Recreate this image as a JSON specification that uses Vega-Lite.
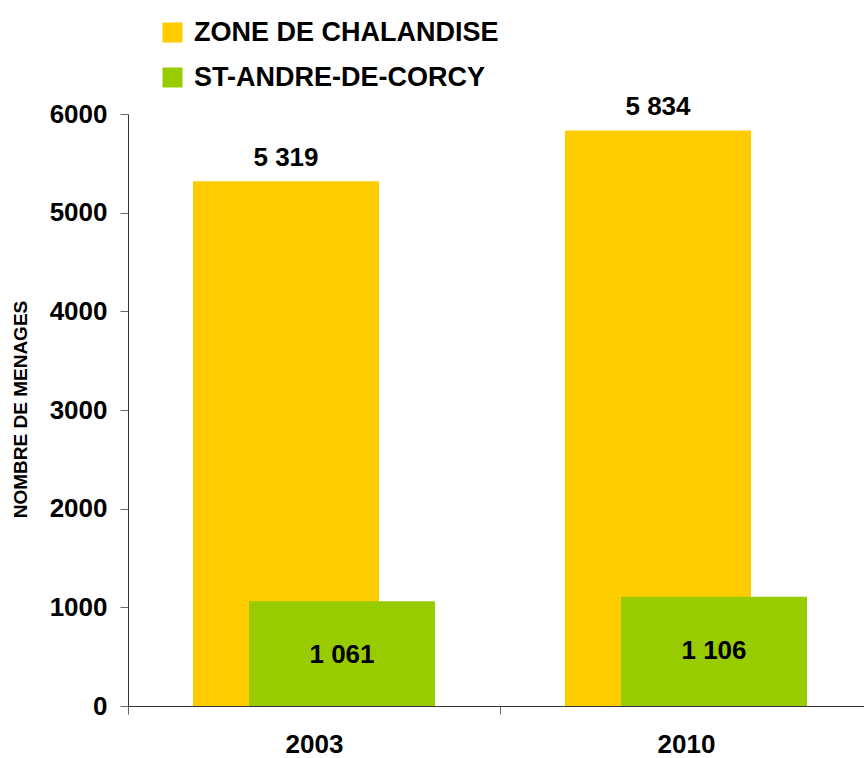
{
  "$schema": "https://vega.github.io/schema/vega-lite/v6.json",
  "width": 736,
  "height": 592,
  "autosize": {"type": "none"},
  "padding": {"left": 128, "top": 114, "right": 0, "bottom": 52},
  "background": "white",
  "config": {
    "font": "Liberation Sans",
    "view": {"stroke": null},
    "locale": {"number": {"decimal": ",", "thousands": " ", "grouping": [3], "currency": ["", " €"]}},
    "axis": {"grid": false, "domainColor": "#333333", "tickColor": "#666666", "labelColor": "#000000", "labelFont": "Liberation Sans", "labelFontWeight": "bold", "labelFontSize": 26}
  },
  "data": {
    "values": [
      {"year": "2003", "series": "ZONE DE CHALANDISE", "value": 5319},
      {"year": "2010", "series": "ZONE DE CHALANDISE", "value": 5834},
      {"year": "2003", "series": "ST-ANDRE-DE-CORCY", "value": 1061},
      {"year": "2010", "series": "ST-ANDRE-DE-CORCY", "value": 1106}
    ]
  },
  "encoding": {
    "x": {
      "field": "year", "type": "nominal",
      "scale": {"paddingInner": 0, "paddingOuter": 0, "range": [0, 744]},
      "axis": {"title": null, "labelAngle": 0, "tickBand": "extent", "tickSize": 8, "labelPadding": 17, "labelBaseline": "top"}
    },
    "y": {
      "field": "value", "type": "quantitative",
      "scale": {"domain": [0, 6000], "nice": false},
      "axis": {"values": [0, 1000, 2000, 3000, 4000, 5000, 6000], "format": "d", "tickSize": 8, "labelPadding": 13,
        "title": "NOMBRE DE MENAGES", "titleFontSize": 19, "titleFontWeight": "bold", "titleColor": "#000000", "titleFont": "Liberation Sans",
        "titleX": -108, "titleY": 295, "titleBaseline": "middle", "titleAngle": -90}
    }
  },
  "layer": [
    {
      "transform": [{"filter": "datum.series === 'ZONE DE CHALANDISE'"}],
      "mark": {"type": "bar", "width": {"band": 0.5}, "xOffset": -28},
      "encoding": {
        "color": {
          "field": "series", "type": "nominal",
          "scale": {"domain": ["ZONE DE CHALANDISE", "ST-ANDRE-DE-CORCY"], "range": ["#FFCC00", "#99CC00"]},
          "legend": {"title": null, "orient": "none", "legendX": 31, "legendY": -95, "padding": 0,
            "symbolType": "square", "symbolSize": 400, "symbolStrokeWidth": 0, "labelFontSize": 27, "labelFontWeight": "bold",
            "labelColor": "#000000", "labelFont": "Liberation Sans", "labelOffset": 8, "rowPadding": 17, "labelLimit": 0}
        }
      }
    },
    {
      "transform": [{"filter": "datum.series === 'ST-ANDRE-DE-CORCY'"}],
      "mark": {"type": "bar", "width": {"band": 0.5}, "xOffset": 28},
      "encoding": {
        "color": {"field": "series", "type": "nominal"}
      }
    },
    {
      "transform": [{"filter": "datum.series === 'ZONE DE CHALANDISE'"}],
      "mark": {"type": "text", "xOffset": -28, "dy": -15, "baseline": "alphabetic", "fontSize": 26, "fontWeight": "bold", "color": "#000000", "font": "Liberation Sans"},
      "encoding": {"text": {"field": "value", "type": "quantitative", "format": ",d"}}
    },
    {
      "transform": [{"filter": "datum.series === 'ST-ANDRE-DE-CORCY'"}],
      "mark": {"type": "text", "xOffset": 28, "dy": 54, "baseline": "middle", "fontSize": 26, "fontWeight": "bold", "color": "#000000", "font": "Liberation Sans"},
      "encoding": {"text": {"field": "value", "type": "quantitative", "format": ",d"}}
    }
  ]
}
